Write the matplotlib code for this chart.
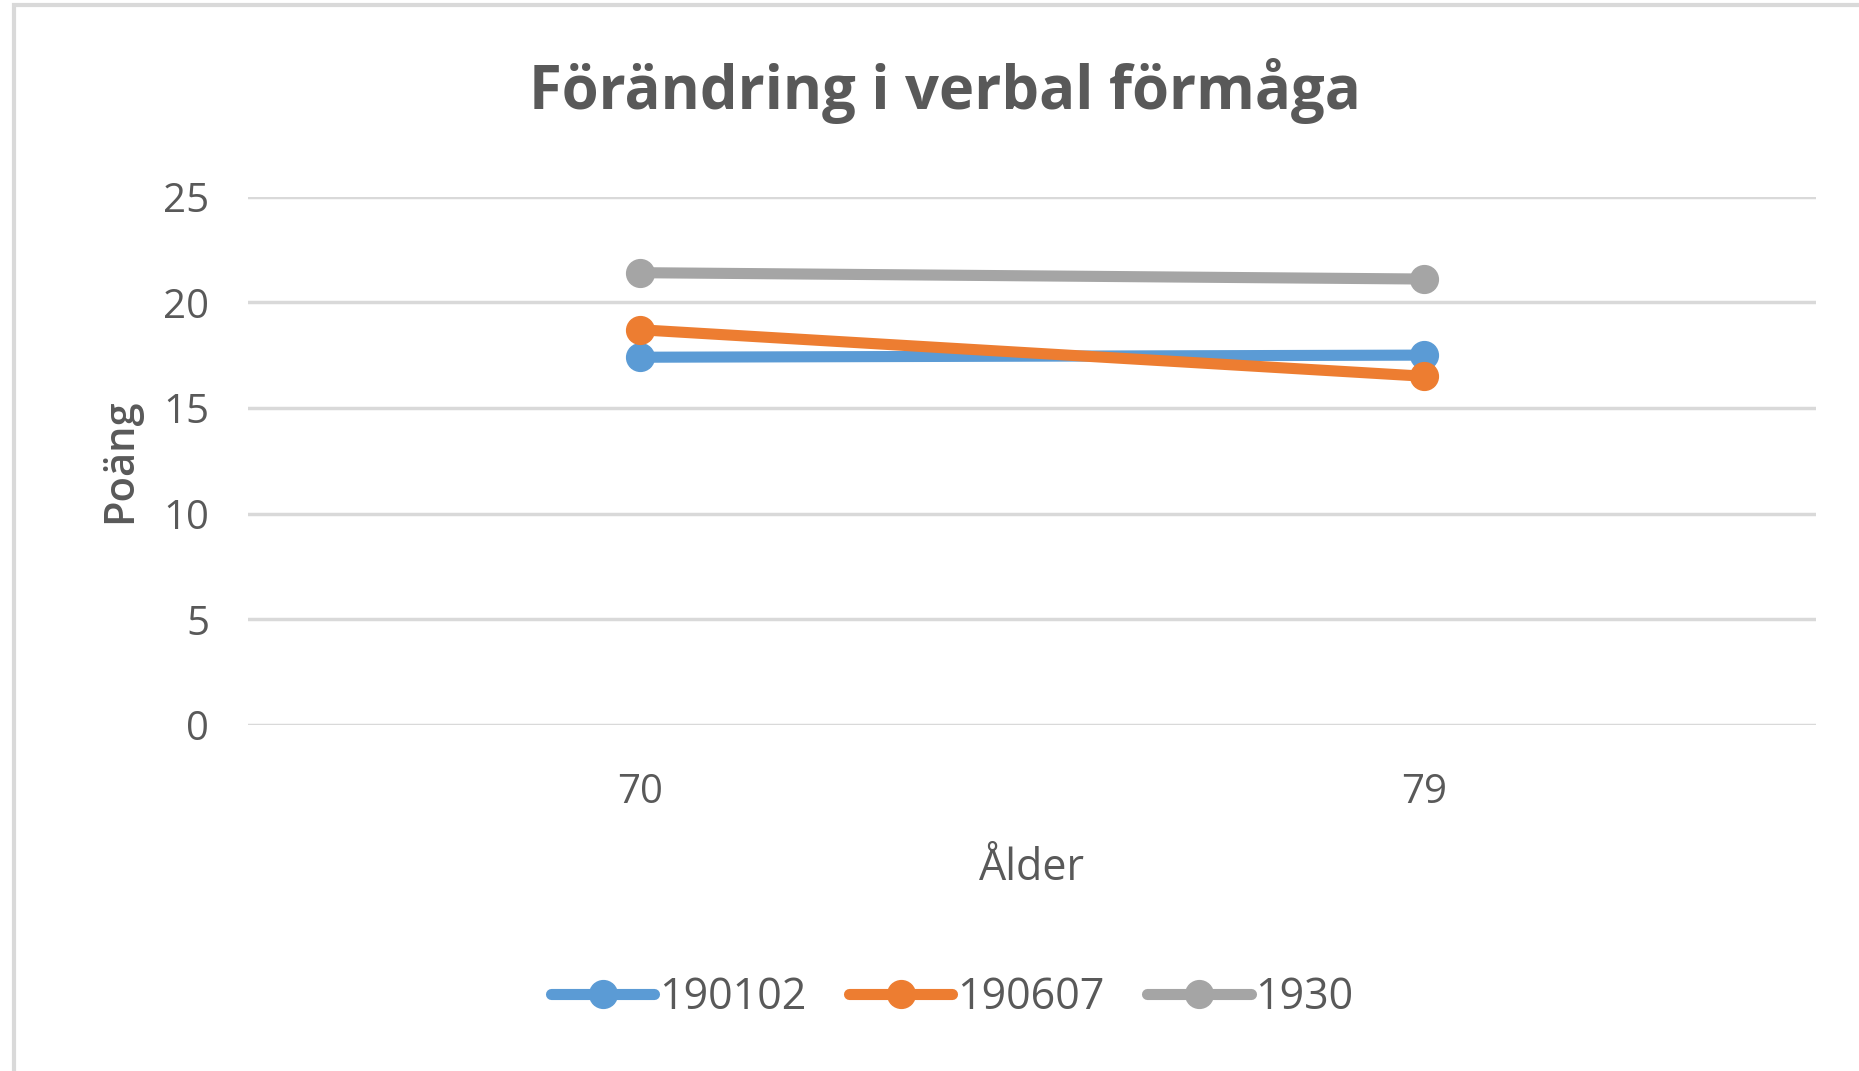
import matplotlib
matplotlib.use("Agg")
import matplotlib.pyplot as plt
from matplotlib.patches import Rectangle

# data
ages = ["70", "79"]
series_names = ["190102", "190607", "1930"]
s190102 = [17.4, 17.5]
s190607 = [18.7, 16.5]
s1930 = [21.4, 21.1]
colors = ["#5B9BD5", "#ED7D31", "#A5A5A5"]
yticks = [0, 5, 10, 15, 20, 25]

plt.rcParams['font.family'] = ['Open Sans', 'DejaVu Sans']
txt = "#595959"

fig = plt.figure(figsize=(18.59, 10.71), dpi=100)
# chart border
fig.patches.append(Rectangle((14 / 1859, -0.1), 1.2, 1 - 5 / 1071 + 0.1,
                             transform=fig.transFigure, fill=False,
                             edgecolor="#D9D9D9", linewidth=3))

ax = fig.add_axes([248 / 1859, 1 - 725 / 1071, 1568 / 1859, (725 - 196.6) / 1071])
x = range(len(ages))
for vals, name, c in zip([s190102, s190607, s1930], series_names, colors):
    ax.plot(x, vals, color=c, lw=8, marker="o", markersize=20,
            solid_capstyle="round", label=name, zorder=3)

ax.set_xlim(-0.5, 1.5)
ax.set_ylim(0, 25)
ax.set_yticks(yticks)
ax.set_xticks(list(x))
ax.set_xticklabels(ages)
ax.grid(axis="y", color="#D9D9D9", lw=2.5)
ax.set_axisbelow(True)
for sp in ax.spines.values():
    sp.set_visible(False)
ax.tick_params(length=0, labelsize=29, colors=txt, pad=28)
ax.tick_params(axis="x", pad=34)

ax.set_ylabel("Poäng", fontsize=30, color=txt, fontweight="semibold", labelpad=16)
ax.set_xlabel("Ålder", fontsize=31, color=txt, labelpad=24)

fig.text(945 / 1859, 1 - 91 / 1071, "Förändring i verbal förmåga", ha="center", va="center",
         fontsize=43, fontweight="bold", color=txt)

ax.legend(loc="center", bbox_to_anchor=(0.449, (725 - 998) / (725 - 196.6)), ncol=3,
          frameon=False, fontsize=31, labelcolor=txt, handlelength=2.4,
          handletextpad=0.1, columnspacing=1.0)

fig.savefig("out.png", dpi=100)
